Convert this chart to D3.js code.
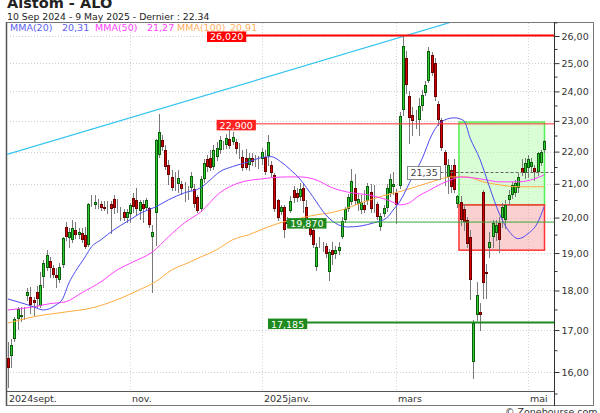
<!DOCTYPE html>
<html><head><meta charset="utf-8">
<script src="https://cdn.jsdelivr.net/npm/d3@7"></script>
<style>
body{margin:0;background:#fff;}
svg{display:block;}
text{font-family:"DejaVu Sans",Verdana,sans-serif;}
</style>
</head><body>
<svg id="c" width="600" height="413"></svg>
<script>
// ---------- DATA ----------
const opens=[16.32,16.37,16.78,17.27,17.32,17.35,17.86,17.84,17.76,17.97,17.60,18.36,18.60,18.78,18.60,18.41,18.28,18.68,19.73,19.42,19.37,19.65,19.51,19.56,19.51,19.23,20.40,20.37,20.35,20.40,20.31,20.28,20.40,20.54,20.31,20.16,20.16,19.99,20.10,20.58,20.52,20.19,20.40,20.28,20.28,19.45,20.13,21.90,22.37,22.05,21.59,21.21,21.08,21.00,21.00,20.87,20.78,20.87,20.84,20.61,20.25,21.14,21.77,21.80,21.53,21.83,22.05,22.18,22.21,22.40,22.30,22.30,21.99,21.83,21.80,21.59,21.80,21.71,21.68,21.77,21.83,21.87,21.59,21.27,20.52,20.16,20.31,19.82,20.19,20.81,20.72,20.61,20.87,20.31,19.73,19.65,18.62,19.31,19.17,19.20,18.49,19.09,18.97,19.06,19.45,19.93,20.25,20.46,20.87,20.40,20.22,20.37,20.49,20.76,20.52,20.40,19.73,20.10,20.28,20.72,20.90,20.72,20.94,23.38,25.19,23.84,23.20,23.10,23.04,23.50,23.94,24.38,25.30,25.00,23.57,23.04,21.99,21.21,21.43,21.59,20.40,20.46,20.25,19.93,19.45,16.23,17.38,17.45,20.76,18.49,19.14,19.45,19.56,19.85,19.99,19.93,20.52,20.67,20.73,20.88,21.50,21.34,21.50,21.53,21.50,21.37,21.65,22.05];
const highs=[16.70,16.78,17.32,17.57,17.57,17.57,18.07,18.10,17.84,18.12,18.48,18.81,19.08,18.89,18.68,18.60,18.73,19.45,19.88,19.70,19.93,19.88,19.70,19.70,19.73,20.43,20.65,20.65,20.55,20.49,20.49,20.49,20.49,20.65,20.55,20.31,20.25,20.25,20.43,20.72,20.86,20.52,20.52,20.58,20.31,19.79,22.40,23.23,22.53,22.21,21.74,21.43,21.37,21.43,21.10,21.05,20.94,21.37,21.00,20.67,21.24,21.77,21.90,22.05,22.21,22.30,22.50,22.34,22.56,22.72,22.62,22.40,22.27,22.05,22.08,21.96,21.96,21.90,21.87,22.11,22.05,22.53,21.71,21.34,20.55,20.37,20.37,20.02,20.64,20.94,20.87,21.02,21.02,20.52,19.88,19.70,19.28,19.45,19.31,19.28,19.12,19.31,19.20,19.31,20.02,20.31,20.70,21.46,21.30,20.70,20.67,20.81,21.02,21.00,20.97,20.46,20.13,20.37,21.00,21.30,21.37,20.84,23.30,26.02,25.44,24.02,23.45,23.38,23.77,24.06,24.38,25.59,25.40,25.19,23.67,23.10,22.05,21.77,21.59,21.77,20.67,20.64,20.40,20.02,19.65,17.25,18.23,17.68,20.82,18.70,19.59,19.93,19.93,20.02,20.43,20.52,20.82,21.06,21.12,21.34,21.77,21.80,21.90,21.80,21.59,21.99,22.05,22.37];
const lows=[15.66,16.12,16.73,17.02,17.22,17.27,17.76,17.43,17.35,17.58,17.58,18.10,18.54,18.35,18.35,18.10,18.22,18.62,19.37,19.17,19.31,19.42,19.42,19.31,19.14,19.20,20.34,20.28,20.28,20.22,20.22,20.13,19.56,20.13,20.16,19.93,19.93,19.87,19.87,20.16,20.10,19.96,19.87,20.25,19.73,17.97,19.23,21.83,22.05,21.46,21.00,20.81,20.81,20.75,20.70,20.49,20.55,20.81,20.31,20.16,20.19,21.05,21.40,21.43,21.46,21.74,21.96,22.08,22.11,22.11,22.24,21.96,21.80,21.43,21.46,21.43,21.59,21.55,21.50,21.62,21.30,21.59,21.24,20.19,19.93,20.10,19.45,19.73,20.16,20.46,20.49,20.52,20.16,19.70,19.48,19.17,18.54,19.17,19.06,18.89,18.28,18.70,18.86,18.97,19.42,19.87,20.19,20.40,20.40,20.22,20.13,20.16,20.40,20.16,20.16,19.96,19.65,20.04,20.19,20.64,20.70,19.85,20.87,23.20,23.95,22.27,22.53,22.77,22.53,23.38,23.87,24.32,24.58,23.70,22.87,22.05,20.97,20.73,20.76,20.76,20.31,19.79,19.65,19.17,17.79,15.87,17.25,17.00,17.81,17.81,18.89,19.17,19.37,19.03,19.73,19.70,20.40,20.58,20.64,20.76,21.27,21.18,21.21,21.37,21.12,21.27,21.59,21.99];
const closes=[16.09,16.63,17.27,17.52,17.37,17.37,17.96,17.63,17.68,17.79,18.15,18.73,18.95,18.60,18.41,18.33,18.62,19.42,19.45,19.59,19.70,19.51,19.59,19.37,19.17,20.40,20.41,20.46,20.37,20.28,20.25,20.26,20.25,20.28,20.31,20.17,19.99,20.16,20.37,20.31,20.25,20.46,20.25,20.52,19.79,19.59,22.37,22.64,22.15,21.53,21.27,20.87,21.05,21.18,20.84,20.84,20.75,21.24,20.40,20.19,21.14,21.65,21.53,21.50,22.05,22.11,22.37,22.21,22.43,22.18,22.46,22.08,21.96,21.50,21.50,21.80,21.68,21.72,21.65,21.99,21.37,22.30,21.34,20.25,19.99,20.31,19.65,19.93,20.49,20.57,20.57,20.84,20.49,19.73,19.51,19.23,19.17,19.28,19.20,18.97,19.03,18.95,19.09,19.17,19.90,20.25,20.61,21.08,20.49,20.55,20.46,20.22,20.94,20.25,20.49,20.02,20.05,20.28,20.87,21.14,21.00,20.37,23.17,25.62,24.22,23.10,23.00,23.07,23.50,23.87,24.22,25.44,24.65,23.80,23.04,22.11,21.59,21.59,20.91,20.82,20.64,19.93,19.87,19.25,18.28,17.17,17.89,17.38,18.20,18.44,19.31,19.85,19.79,19.37,20.31,20.37,20.67,20.97,21.03,21.21,21.34,21.65,21.77,21.68,21.37,21.96,21.99,22.34];

// moving averages: [trading-day index, value]
const ma20=[[0,17.78],[5,17.66],[8,17.58],[11,17.50],[15,17.63],[17,17.78],[19,18.20],[21,18.50],[24,18.89],[26,19.17],[29,19.37],[33,19.65],[37,19.88],[42,20.16],[46,20.31],[50,20.52],[55,20.73],[60,20.88],[63,21.12],[66,21.37],[70,21.53],[75,21.68],[79,21.81],[82,21.84],[85,21.68],[88,21.43],[91,21.14],[95,20.61],[99,20.08],[103,19.79],[106,19.73],[110,19.76],[114,19.85],[118,19.99],[120,20.22],[122,20.46],[126,21.21],[129,21.77],[132,22.53],[135,22.97],[139,23.10],[142,23.01],[144,22.43],[147,21.77],[150,20.91],[153,20.13],[156,19.62],[159,19.40],[162,19.54],[165,19.85],[167,20.31]];
const ma50=[[0,17.50],[8,17.58],[13,17.66],[18,17.71],[23,17.94],[29,18.23],[34,18.54],[39,18.76],[45,19.03],[50,19.45],[55,19.85],[60,20.16],[66,20.73],[72,21.03],[79,21.15],[87,21.21],[91,21.21],[96,21.12],[101,20.88],[107,20.73],[112,20.67],[116,20.58],[119,20.49],[122,20.37],[125,20.43],[128,20.64],[131,20.79],[135,21.00],[138,21.12],[141,21.21],[145,21.18],[149,21.12],[153,21.06],[159,21.06],[164,21.15],[167,21.27]];
const ma100=[[0,17.17],[8,17.33],[18,17.45],[26,17.55],[34,17.76],[41,18.02],[46,18.23],[51,18.54],[56,18.73],[60,18.89],[65,19.09],[70,19.37],[75,19.51],[81,19.73],[86,19.88],[90,19.96],[96,20.08],[100,20.13],[104,20.22],[110,20.43],[117,20.64],[123,20.79],[129,20.97],[133,21.09],[138,21.21],[143,21.21],[148,21.06],[153,20.97],[159,20.91],[167,20.91]];

const maNames=["MMA(20)","MMA(50)","MMA(100)"];
const maLastLabels=["20,31","21,27","20,91"];

const monthTickIdx=[0,38,79,121,162];
const monthTickLabels=["2024sept.","nov.","2025janv.","mars","mai"];
const priceTicks=[16,17,18,19,20,21,22,23,24,25,26];

const trendPts=[[0,21.92],[123,25.98]];
const levelValues=[26.02,22.9,19.87,17.185];
const levelLabels=["26,020","22,900","19,870","17,185"];
const levelAnchorIdx=[62,65,87,81];
const refValue=21.35, refLabel="21,35", refAnchorIdx=124.3;
const greenZone={from:141,to:167,lo:20.37,hi:22.96};
const redZone={from:141,to:167,lo:19.08,hi:20.37};

const titleText="Alstom - ALO";
const subTitleText="10 Sep 2024 - 9 May 2025 - Dernier : 22.34";

// ---------- DRAW ----------
const svg=d3.select("#c");
const L=7,R=554,T=23,B=391;
const n=closes.length;
const x=d3.scaleLinear().domain([0,n-1]).range([8,544]);
const step=x(1)-x(0);
const y=d3.scaleLog().domain([16,26]).range([372,36]);
const fmt2=d=>d.toFixed(2).replace(".",",");

svg.append("rect").attr("width",600).attr("height",413).attr("fill","#fff");
// frame
svg.append("rect").attr("x",6.5).attr("y",22.5).attr("width",587).attr("height",383)
  .attr("fill","#fff").attr("stroke","#777").attr("stroke-width",1);
svg.append("line").attr("x1",6.5).attr("x2",6.5).attr("y1",22).attr("y2",406).attr("stroke","#555").attr("stroke-width",1.5);

const defs=svg.append("defs");
defs.append("clipPath").attr("id","clip").append("rect").attr("x",L).attr("y",T).attr("width",R-L).attr("height",B-T);
const g=svg.append("g").attr("clip-path","url(#clip)");

// grid
g.selectAll(".hg").data(priceTicks).join("line")
  .attr("x1",L).attr("x2",R).attr("y1",d=>Math.round(y(d))+0.5).attr("y2",d=>Math.round(y(d))+0.5)
  .attr("stroke","#cfcfcf").attr("stroke-dasharray","1,2");
g.selectAll(".vg").data(monthTickIdx.filter(d=>d>0)).join("line")
  .attr("x1",d=>Math.round(x(d))+0.5).attr("x2",d=>Math.round(x(d))+0.5).attr("y1",T).attr("y2",B)
  .attr("stroke","#d5d5d5").attr("stroke-dasharray","1,2");

// zones
function zone(z,fill,stroke){
  const x0=x(z.from)-step/2, x1=x(z.to)+0.5;
  g.append("rect").attr("x",x0).attr("y",y(z.hi)).attr("width",x1-x0).attr("height",y(z.lo)-y(z.hi))
   .attr("fill",fill).attr("stroke",stroke).attr("stroke-width",1.5);
}
zone(greenZone,"rgba(170,250,160,0.45)","#55ee55");
zone(redZone,"rgba(245,150,150,0.45)","#ff3333");

// trend line (extended straight in screen space)
(function(){
  const p0=[x(trendPts[0][0]),y(trendPts[0][1])], p1=[x(trendPts[1][0]),y(trendPts[1][1])];
  const s=(p1[1]-p0[1])/(p1[0]-p0[0]);
  g.append("line").attr("x1",L).attr("y1",p0[1]+s*(L-p0[0])).attr("x2",R).attr("y2",p0[1]+s*(R-p0[0]))
   .attr("stroke","#33c4f0").attr("stroke-width",1.2);
})();

// candles
const idx=d3.range(n);
const cg=g.append("g").attr("shape-rendering","crispEdges");
cg.selectAll(".wick").data(idx).join("line")
  .attr("x1",i=>Math.round(x(i))+0.5).attr("x2",i=>Math.round(x(i))+0.5)
  .attr("y1",i=>Math.round(y(highs[i]))).attr("y2",i=>Math.round(y(lows[i]))+1)
  .attr("stroke","#7a7a7a");
cg.selectAll(".body").data(idx).join("rect")
  .attr("x",i=>Math.round(x(i))-0.5)
  .attr("y",i=>Math.round(y(Math.max(opens[i],closes[i])))+0.5)
  .attr("width",2)
  .attr("height",i=>Math.max(0,Math.round(y(Math.min(opens[i],closes[i])))-Math.round(y(Math.max(opens[i],closes[i])))-1))
  .attr("fill",i=>closes[i]>=opens[i]?"#2ecc2e":"#d40000")
  .attr("stroke",i=>closes[i]>=opens[i]?"#0b5e0b":"#6a0000");

// moving averages
const line=d3.line().x(d=>x(d[0])).y(d=>y(d[1])).curve(d3.curveMonotoneX);
const maColors=["#4a4af0","#ff40ff","#ffaa40"];
[[ma100,2],[ma50,1],[ma20,0]].forEach(([m,k])=>{
  g.append("path").attr("d",line(m)).attr("fill","none").attr("stroke",maColors[k]).attr("stroke-width",1);
});

// horizontal levels
const levelColors=["#ff0000","#ff3030","#3aa83a","#1e8c1e"];
const levelBg=["#ff0000","#ff2020","#1f8a1f","#1e8a1e"];
const levelWidths=[2,1,1,2];
levelValues.forEach((v,k)=>{
  const x0=x(levelAnchorIdx[k]);
  const yy=y(v);
  g.append("line").attr("x1",x0).attr("x2",R).attr("y1",yy).attr("y2",yy)
   .attr("stroke",levelColors[k]).attr("stroke-width",levelWidths[k]);
});

// legend
const legX=[10,62,95,147,177,230];
const legTexts=[maNames[0],maLastLabels[0],maNames[1],maLastLabels[1],maNames[2],maLastLabels[2]];
const legCols=["#6060ee","#6060ee","#ff44ff","#ff44ff","#ffb060","#ffb060"];
legTexts.forEach((t,k)=>{
  svg.append("text").attr("x",legX[k]).attr("y",31).attr("font-size",9.5).attr("fill",legCols[k]).text(t);
});

// level labels
const lab=svg.append("g");
levelValues.forEach((v,k)=>{
  const x0=x(levelAnchorIdx[k]);
  const yy=y(v);
  const t=lab.append("text").attr("x",x0+3).attr("y",yy+5).attr("font-size",9.5).attr("fill","#fff").text(levelLabels[k]);
  const w=t.node().getComputedTextLength()+6;
  lab.insert("rect","text").attr("x",x0).attr("y",yy-4).attr("width",w).attr("height",10.5).attr("fill",levelBg[k]);
});
// reference label with dashed line
(function(){
  const x0=Math.round(x(refAnchorIdx))+0.5, yy=y(refValue);
  const t=lab.append("text").attr("x",x0+3).attr("y",yy+4).attr("font-size",9.5).attr("fill","#444").text(refLabel);
  const w=Math.round(t.node().getComputedTextLength()+6);
  lab.insert("rect","text").attr("x",x0).attr("y",Math.round(yy-6.5)+0.5).attr("width",w).attr("height",13)
    .attr("fill","#fff").attr("stroke","#888");
  const ly=Math.round(yy)+0.5;
  g.append("line").attr("x1",x0+w).attr("x2",R).attr("y1",ly).attr("y2",ly)
   .attr("stroke","#666").attr("stroke-dasharray","3,2");
})();

// x axis band
svg.append("line").attr("x1",6.5).attr("x2",R).attr("y1",391.5).attr("y2",391.5).attr("stroke","#555");
monthTickIdx.forEach((d,k)=>{
  svg.append("text").attr("x",d===0?9:Math.round(x(d))+2).attr("y",401.5).attr("font-size",9.5).attr("fill","#333").text(monthTickLabels[k]);
});

// right axis
const ax=svg.append("g").attr("transform",`translate(${R+0.5},0)`);
ax.call(d3.axisRight(y).tickValues(priceTicks).tickSize(5).tickPadding(2).tickFormat(fmt2));
ax.select(".domain").remove();
ax.selectAll("text").attr("font-size",9.5).attr("fill","#333").attr("font-family","DejaVu Sans");
ax.selectAll("line").attr("stroke","#333");
const minor=d3.range(15.5,26.6,0.5).filter(v=>!priceTicks.includes(v));
ax.selectAll(".mn").data(minor).join("line").attr("x1",0).attr("x2",3).attr("y1",d=>y(d)).attr("y2",d=>y(d)).attr("stroke","#333");
svg.append("line").attr("x1",R+0.5).attr("x2",R+0.5).attr("y1",22).attr("y2",406).attr("stroke","#333");

// headers
svg.append("text").attr("x",7).attr("y",8).attr("font-size",14.5).attr("font-weight","bold").attr("fill","#222").text(titleText);
svg.append("text").attr("x",7).attr("y",20).attr("font-size",9.3).attr("fill","#222").text(subTitleText);
svg.append("text").attr("x",505).attr("y",415).attr("font-size",9.5).attr("fill","#333").text("© Zonebourse.com");
</script>
</body></html>
